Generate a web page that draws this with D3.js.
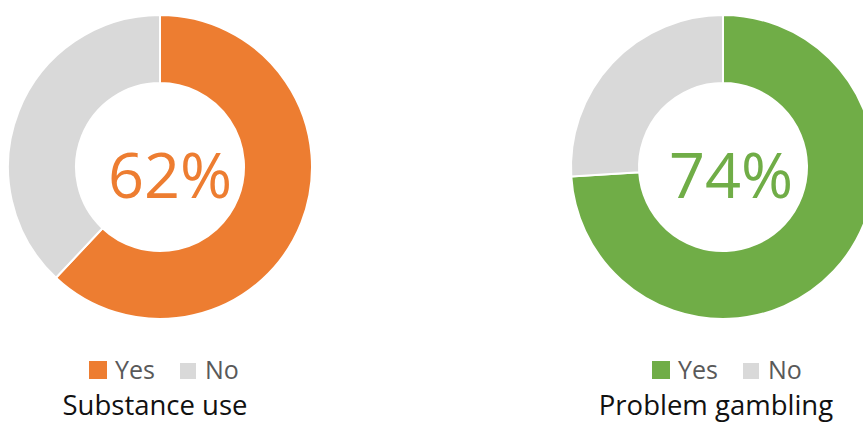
<!DOCTYPE html>
<html>
<head>
<meta charset="utf-8">
<script src="https://cdn.jsdelivr.net/npm/d3@7"></script>
<style>
  html, body { margin: 0; padding: 0; background: #fff; }
  svg { display: block; }
</style>
</head>
<body>
<svg id="chart" width="863" height="423"></svg>
<script>
// ---- data ----
const categories = ["Yes", "No"];
const chartTitles = ["Substance use", "Problem gambling"];
const yesValues = [62, 74];
const noValues = [38, 26];
const yesColors = ["#ED7D31", "#70AD47"];
const noColor = "#D9D9D9";

// ---- layout ----
const svg = d3.select("#chart");
const centers = [{x: 160, y: 167}, {x: 723, y: 167}];
const outerR = 152, innerR = 84;
const font = "'Open Sans', sans-serif";

const pie = d3.pie().sort(null).value(d => d.value);
const arc = d3.arc().innerRadius(innerR).outerRadius(outerR);

chartTitles.forEach((title, i) => {
  const data = [
    {cat: categories[0], value: yesValues[i], color: yesColors[i]},
    {cat: categories[1], value: noValues[i], color: noColor}
  ];
  const g = svg.append("g").attr("transform", `translate(${centers[i].x},${centers[i].y})`);
  g.selectAll("path").data(pie(data)).join("path")
    .attr("d", arc)
    .attr("fill", d => d.data.color)
    .attr("stroke", "#fff")
    .attr("stroke-width", 2);

  g.append("text")
    .attr("x", 10 - i * 2)
    .attr("y", 31)
    .attr("text-anchor", "middle")
    .attr("font-family", font)
    .attr("font-size", 63)
    .attr("fill", yesColors[i])
    .text(yesValues[i] + "%");

  // legend
  const lg = svg.append("g").attr("transform", `translate(${centers[i].x},0)`);
  lg.append("rect").attr("x", -71).attr("y", 361).attr("width", 18).attr("height", 18).attr("fill", yesColors[i]);
  lg.append("text").attr("x", -45).attr("y", 379)
    .attr("font-family", font).attr("font-size", 25).attr("fill", "#595959").text(categories[0]);
  lg.append("rect").attr("x", 20).attr("y", 363).attr("width", 16).attr("height", 16).attr("fill", noColor);
  lg.append("text").attr("x", 45).attr("y", 379)
    .attr("font-family", font).attr("font-size", 25).attr("fill", "#595959").text(categories[1]);

  svg.append("text")
    .attr("x", i === 0 ? 155 : 716)
    .attr("y", 415)
    .attr("text-anchor", "middle")
    .attr("font-family", font)
    .attr("font-size", 27.5)
    .attr("fill", "#111")
    .text(title);
});
</script>
</body>
</html>
